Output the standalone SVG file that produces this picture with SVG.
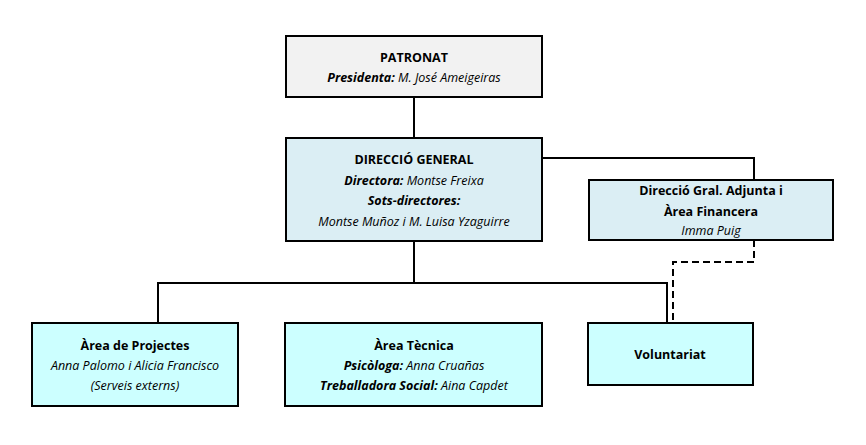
<svg xmlns="http://www.w3.org/2000/svg" width="866" height="445" viewBox="0 0 866 445">
<style>
.b{stroke:#000;stroke-width:2}
text{font-family:"Open Sans","Noto Sans",sans-serif;font-size:12.5px;text-anchor:middle;fill:#000}
.h{font-weight:bold}
.i{font-style:italic}
.c{fill:none;stroke:#000;stroke-width:2}
</style>
<rect width="866" height="445" fill="#fff"/>
<g id="connectors">
<path class="c" d="M414 97V138M542 158H754V180M414 241V283M158 323V283H667V323"/>
<path class="c" d="M754 240V262H673V323" stroke-dasharray="7,4"/>
</g>
<g id="patronat"><rect class="b" x="286" y="36" width="256" height="61" fill="#f2f2f2"/>
<text x="414" y="62" class="h">PATRONAT</text>
<text x="414" y="82"><tspan class="h i">Presidenta:</tspan><tspan class="i">  M. José Ameigeiras</tspan></text></g>
<g id="direccio"><rect class="b" x="286" y="138" width="256" height="103" fill="#dbeef4"/>
<text x="414" y="164" class="h">DIRECCIÓ GENERAL</text>
<text x="414" y="185"><tspan class="h i">Directora:</tspan><tspan class="i">  Montse Freixa</tspan></text>
<text x="414" y="205" class="h i">Sots-directores:</text>
<text x="414" y="226" class="i">Montse Muñoz i M. Luisa Yzaguirre</text></g>
<g id="adjunta"><rect class="b" x="589" y="180" width="244" height="60" fill="#dbeef4"/>
<text x="711" y="195" class="h">Direcció Gral. Adjunta i</text>
<text x="711" y="216" class="h">Àrea Financera</text>
<text x="711" y="235" class="i">Imma Puig</text></g>
<g id="projectes"><rect class="b" x="32" y="323" width="206" height="83" fill="#ccffff"/>
<text x="135" y="350" class="h">Àrea de Projectes</text>
<text x="135" y="370" class="i">Anna Palomo i Alicia Francisco</text>
<text x="135" y="390" class="i">(Serveis externs)</text></g>
<g id="tecnica"><rect class="b" x="285" y="323" width="257" height="83" fill="#ccffff"/>
<text x="414" y="350" class="h">Àrea Tècnica</text>
<text x="414" y="370"><tspan class="h i">Psicòloga:</tspan><tspan class="i">  Anna Cruañas</tspan></text>
<text x="414" y="390"><tspan class="h i">Treballadora Social:</tspan><tspan class="i">  Aina Capdet</tspan></text></g>
<g id="voluntariat"><rect class="b" x="588" y="323" width="165" height="62" fill="#ccffff"/>
<text x="670" y="359" class="h">Voluntariat</text></g>
</svg>
